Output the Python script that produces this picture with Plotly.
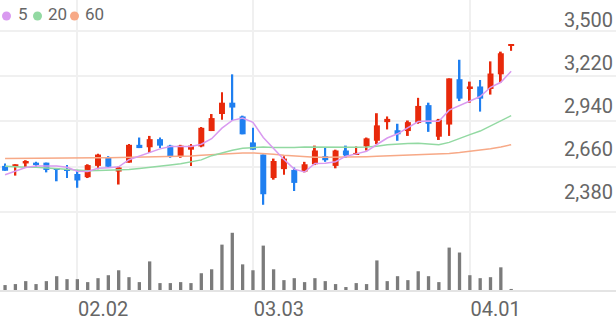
import plotly.graph_objects as go

dates = [
    "2026-01-22", "2026-01-23", "2026-01-26", "2026-01-27", "2026-01-28", "2026-01-29", "2026-01-30",
    "2026-02-02", "2026-02-03", "2026-02-04", "2026-02-05", "2026-02-06",
    "2026-02-09", "2026-02-10", "2026-02-11", "2026-02-12", "2026-02-13",
    "2026-02-19", "2026-02-20",
    "2026-02-23", "2026-02-24", "2026-02-25", "2026-02-26", "2026-02-27",
    "2026-03-03", "2026-03-04", "2026-03-05", "2026-03-06",
    "2026-03-09", "2026-03-10", "2026-03-11", "2026-03-12", "2026-03-13",
    "2026-03-16", "2026-03-17", "2026-03-18", "2026-03-19", "2026-03-20",
    "2026-03-23", "2026-03-24", "2026-03-25", "2026-03-26", "2026-03-27",
    "2026-03-30", "2026-03-31",
    "2026-04-01", "2026-04-02", "2026-04-03", "2026-04-06", "2026-04-07",
]

opens = [2665, 2660, 2680, 2685, 2685, 2650, 2645, 2615, 2595, 2665,
         2715, 2630, 2685, 2795, 2780, 2830, 2790, 2725, 2765, 2785,
         2880, 2985, 3055, 2970, 2810, 2735, 2590, 2645, 2640, 2630,
         2675, 2725, 2665, 2760, 2735, 2785, 2820, 2935, 2885, 2880,
         2930, 3040, 2845, 2920, 3200, 3145, 3155, 3140, 3230, 3405]
highs = [2680, 2675, 2700, 2690, 2685, 2650, 2670, 2640, 2675, 2740,
         2725, 2660, 2800, 2840, 2850, 2840, 2795, 2795, 2800, 2905,
         2985, 3120, 3230, 2975, 2900, 2735, 2710, 2725, 2655, 2690,
         2790, 2780, 2765, 2790, 2785, 2840, 2990, 2970, 2925, 2945,
         3085, 3055, 2955, 3205, 3320, 3185, 3195, 3310, 3370, 3415]
lows = [2635, 2605, 2655, 2655, 2625, 2570, 2590, 2530, 2590, 2645,
        2660, 2550, 2685, 2775, 2745, 2775, 2715, 2715, 2665, 2780,
        2880, 2950, 2945, 2860, 2765, 2425, 2580, 2610, 2510, 2625,
        2670, 2690, 2650, 2715, 2735, 2760, 2800, 2890, 2820, 2850,
        2925, 2875, 2825, 2850, 3065, 3055, 3000, 3105, 3180, 3375]
closes = [2635, 2675, 2695, 2675, 2640, 2640, 2635, 2575, 2670, 2735,
          2660, 2655, 2795, 2775, 2830, 2790, 2725, 2790, 2790, 2900,
          2960, 3055, 3025, 2860, 2765, 2490, 2695, 2710, 2560, 2675,
          2760, 2700, 2760, 2730, 2745, 2835, 2915, 2955, 2860, 2935,
          3035, 2925, 2950, 3205, 3080, 3155, 3080, 3235, 3360, 3415]

volumes = [125, 150, 225, 150, 225, 350, 275, 275, 200, 300,
           375, 500, 325, 200, 725, 175, 175, 200, 175, 425,
           525, 1150, 1450, 650, 500, 1125, 525, 250, 300, 200,
           300, 225, 150, 75, 175, 150, 750, 225, 350, 250,
           475, 350, 200, 1075, 950, 375, 300, 325, 575, 25]

ma5 = [2610, 2633, 2655, 2664, 2664, 2664, 2656, 2632, 2631, 2650,
       2654, 2659, 2703, 2725, 2744, 2770, 2784, 2783, 2785, 2799,
       2833, 2898, 2946, 2960, 2934, 2840, 2769, 2705, 2645, 2627,
       2680, 2682, 2691, 2725, 2739, 2755, 2797, 2837, 2863, 2900,
       2939, 2942, 2940, 3009, 3038, 3062, 3093, 3150, 3181, 3249]
ma20 = [2663, 2658, 2657, 2656, 2651, 2646, 2644, 2638, 2635, 2636,
        2637, 2639, 2642, 2649, 2655, 2662, 2670, 2678, 2688, 2702,
        2728, 2745, 2762, 2774, 2780, 2782, 2778, 2776, 2778, 2782,
        2781, 2780, 2780, 2780, 2780, 2782, 2786, 2795, 2801, 2803,
        2804, 2800, 2795, 2810, 2836, 2858, 2880, 2910, 2940, 2975]
ma60 = [2710, 2711, 2711, 2712, 2712, 2713, 2713, 2714, 2714, 2715,
        2715, 2716, 2718, 2720, 2721, 2722, 2723, 2724, 2726, 2730,
        2734, 2738, 2742, 2745, 2745, 2743, 2737, 2731, 2726, 2721,
        2719, 2718, 2718, 2719, 2721, 2722, 2724, 2726, 2728, 2730,
        2732, 2734, 2737, 2741, 2747, 2754, 2762, 2771, 2782, 2796]

price_ticks = [2380, 2660, 2940, 3220, 3500]
price_tick_text = ["2,380", "2,660", "2,940", "3,220", "3,500"]
date_ticks = ["2026-02-02", "2026-03-03", "2026-04-01"]
date_tick_text = ["02.02", "03.03", "04.01"]

legend_labels = ["5", "20", "60"]

RED = "#e8290b"
BLUE = "#1f7ff0"
C_MA5 = "#d99af0"
C_MA20 = "#92d9a2"
C_MA60 = "#f7a987"
C_VOL = "#7b7b7b"
GRID = "#f0f0f0"
TXT = "#666666"

cand_colors = [RED if c >= o else BLUE for o, c in zip(opens, closes)]
body_base = [min(o, c) for o, c in zip(opens, closes)]
body_h = [max(abs(c - o), 6) for o, c in zip(opens, closes)]
wick_h = [h - l for h, l in zip(highs, lows)]

fig = go.Figure()

# moving averages (behind candles)
for vals, col in [(ma60, C_MA60), (ma20, C_MA20), (ma5, C_MA5)]:
    fig.add_trace(go.Scatter(x=dates, y=vals, mode="lines", line=dict(color=col, width=1.5),
                             xaxis="x", yaxis="y2", hoverinfo="skip"))

# wicks
fig.add_trace(go.Bar(x=dates, y=wick_h, base=lows, width=0.18, marker=dict(color=cand_colors, line=dict(width=0)),
                     xaxis="x", yaxis="y2", hoverinfo="skip"))
# bodies
fig.add_trace(go.Bar(x=dates, y=body_h, base=body_base, width=0.58, marker=dict(color=cand_colors, line=dict(width=0)),
                     xaxis="x", yaxis="y2", hoverinfo="skip"))

# volume
fig.add_trace(go.Bar(x=dates, y=volumes, width=0.32, marker=dict(color=C_VOL, line=dict(width=0)),
                     xaxis="x", yaxis="y", hoverinfo="skip"))

# invisible trace to carry the label axis
fig.add_trace(go.Scatter(x=[dates[0]], y=[price_ticks[0]], mode="markers", marker=dict(opacity=0),
                         xaxis="x", yaxis="y3", hoverinfo="skip"))

vol_dom = [0, 0.2347]
price_dom = [0.2347, 1]

fig.update_layout(
    width=616, height=321,
    margin=dict(l=0, r=0, t=0, b=27),
    paper_bgcolor="white", plot_bgcolor="white",
    barmode="overlay",
    showlegend=False,
    font=dict(family="Roboto", color=TXT),
    xaxis=dict(
        type="category", categoryorder="array", categoryarray=dates,
        range=[-0.49, 59.15], anchor="y",
        tickvals=date_ticks, ticktext=date_tick_text,
        ticklabelposition="outside right", ticks="",
        showgrid=True, gridcolor=GRID, gridwidth=1.5,
        showline=True, linecolor="#e4e4e4", linewidth=1.5,
        tickfont=dict(size=20, color=TXT),
        zeroline=False,
    ),
    yaxis=dict(domain=vol_dom, range=[0, 1725], showgrid=False, showticklabels=False,
               zeroline=False, anchor="x"),
    yaxis2=dict(domain=price_dom, range=[2319.1, 3688.7], tickvals=price_ticks,
                showticklabels=False, showgrid=True, gridcolor=GRID, gridwidth=1.5,
                zeroline=False, anchor="x"),
    yaxis3=dict(overlaying="y2", side="right", anchor="x", range=[2188, 3628],
                tickvals=price_ticks, ticktext=price_tick_text,
                ticklabelposition="inside", ticks="", showgrid=False, zeroline=False,
                tickfont=dict(size=20, color=TXT)),
)

# legend: coloured dots with labels
legend_dots = [(2, C_MA5), (33, C_MA20), (70, C_MA60)]
legend_text_x = [16, 46, 83]
for (x0, col), lab, tx in zip(legend_dots, legend_labels, legend_text_x):
    fig.add_shape(type="circle", xref="paper", yref="paper", xsizemode="pixel", ysizemode="pixel",
                  xanchor=0, yanchor=1, x0=x0, x1=x0 + 9, y0=-20.5, y1=-11.5,
                  fillcolor=col, line=dict(width=0))
    fig.add_annotation(xref="paper", yref="paper", x=tx / 616, y=1 - 16 / 321, text=lab,
                       showarrow=False, xanchor="left", yanchor="middle",
                       font=dict(size=17, color=TXT, family="Roboto"))

fig.write_html("out.html")
